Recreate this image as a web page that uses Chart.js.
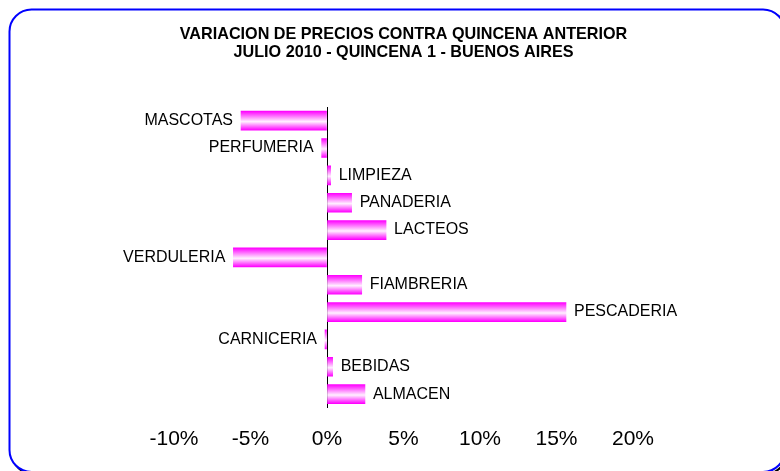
<!DOCTYPE html>
<html>
<head>
<meta charset="utf-8">
<style>
  body { margin: 0; background: #fff; }
  canvas { display: block; }
</style>
<script src="https://cdn.jsdelivr.net/npm/chart.js"></script>
</head>
<body>
<canvas id="myChart" width="780" height="471"></canvas>
<script>
    const categories = ["MASCOTAS", "PERFUMERIA", "LIMPIEZA", "PANADERIA", "LACTEOS", "VERDULERIA", "FIAMBRERIA", "PESCADERIA", "CARNICERIA", "BEBIDAS", "ALMACEN"]
    const variacion = [-5.62, -0.35, 0.24, 1.61, 3.86, -6.12, 2.27, 15.62, -0.13, 0.37, 2.48]
    const titleLines = ["VARIACION DE PRECIOS CONTRA QUINCENA ANTERIOR", "JULIO 2010 - QUINCENA 1 - BUENOS AIRES"]
    const xMin = -10, xMax = 20, xStep = 5

    const FONT = "'Liberation Sans', Arial, sans-serif"

    // marco azul redondeado alrededor del grafico
    const framePlugin = {
        id: 'frame',
        beforeDraw(chart) {
            const ctx = chart.ctx
            const r = 22, x0 = 9.5, y0 = 9.5, x1 = 785, y1 = 472
            function path(dx, dy) {
                ctx.beginPath()
                ctx.moveTo(x0 + r + dx, y0 + dy)
                ctx.arcTo(x1 + dx, y0 + dy, x1 + dx, y1 + dy, r)
                ctx.arcTo(x1 + dx, y1 + dy, x0 + dx, y1 + dy, r)
                ctx.arcTo(x0 + dx, y1 + dy, x0 + dx, y0 + dy, r)
                ctx.arcTo(x0 + dx, y0 + dy, x1 + dx, y0 + dy, r)
                ctx.closePath()
            }
            ctx.save()
            ctx.fillStyle = '#fff'
            ctx.fillRect(0, 0, chart.width, chart.height)
            ctx.lineWidth = 2
            ctx.strokeStyle = '#000'
            path(2, 2)
            ctx.stroke()
            ctx.fillStyle = '#fff'
            path(0, 0)
            ctx.fill()
            ctx.strokeStyle = '#0000ff'
            ctx.stroke()
            ctx.restore()
        }
    }

    // etiqueta de cada rubro al lado de la barra
    const barLabels = {
        id: 'barLabels',
        afterDatasetsDraw(chart) {
            const ctx = chart.ctx
            const xs = chart.scales.x, ys = chart.scales.y
            ctx.save()
            ctx.font = `16px ${FONT}`
            ctx.fillStyle = '#000'
            ctx.textBaseline = 'middle'
            variacion.forEach((v, i) => {
                const x = xs.getPixelForValue(v)
                const y = ys.getPixelForValue(i)
                if (v >= 0) {
                    ctx.textAlign = 'left'
                    ctx.fillText(categories[i], x + 8, y)
                } else {
                    ctx.textAlign = 'right'
                    ctx.fillText(categories[i], x - 8, y)
                }
            })
            ctx.restore()
        }
    }

    function barGradient(c) {
        const chart = c.chart
        const ys = chart.scales.y
        if (!ys) return '#ff00ff'
        const yc = ys.getPixelForValue(c.dataIndex)
        if (!isFinite(yc)) return '#ff00ff'
        const g = chart.ctx.createLinearGradient(0, yc - 9.5, 0, yc + 9.5)
        g.addColorStop(0, '#ff00ff')
        g.addColorStop(0.55, '#fff0ff')
        g.addColorStop(1, '#ff00ff')
        return g
    }

    const data = {
        labels: categories,
        datasets: [{
            label: 'Variación',
            data: variacion,
            backgroundColor: barGradient,
            borderWidth: 0,
            barThickness: 19
        }]
    }

    const config = {
        type: 'bar',
        data,
        options: {
            indexAxis: 'y',
            responsive: false,
            animation: false,
            layout: {
                padding: { left: 174, right: 147, top: 0, bottom: 0 }
            },
            plugins: {
                legend: { display: false },
                tooltip: { enabled: false },
                title: {
                    display: true,
                    text: titleLines,
                    color: '#000',
                    font: { family: FONT, size: 16.2, weight: 'bold', lineHeight: '18px' },
                    padding: { top: 25.5, bottom: 45.5 }
                }
            },
            scales: {
                x: {
                    min: xMin,
                    max: xMax,
                    border: { display: false },
                    grid: {
                        drawTicks: false,
                        color: c => (c.tick && c.tick.value === 0) ? '#000' : 'rgba(0,0,0,0)'
                    },
                    ticks: {
                        stepSize: xStep,
                        padding: 19,
                        color: '#000',
                        font: { family: FONT, size: 21 },
                        callback: v => v + '%'
                    }
                },
                y: {
                    display: false
                }
            }
        },
        plugins: [framePlugin, barLabels]
    }

    const myChart = new Chart(document.getElementById('myChart'), config)
</script>
</body>
</html>
